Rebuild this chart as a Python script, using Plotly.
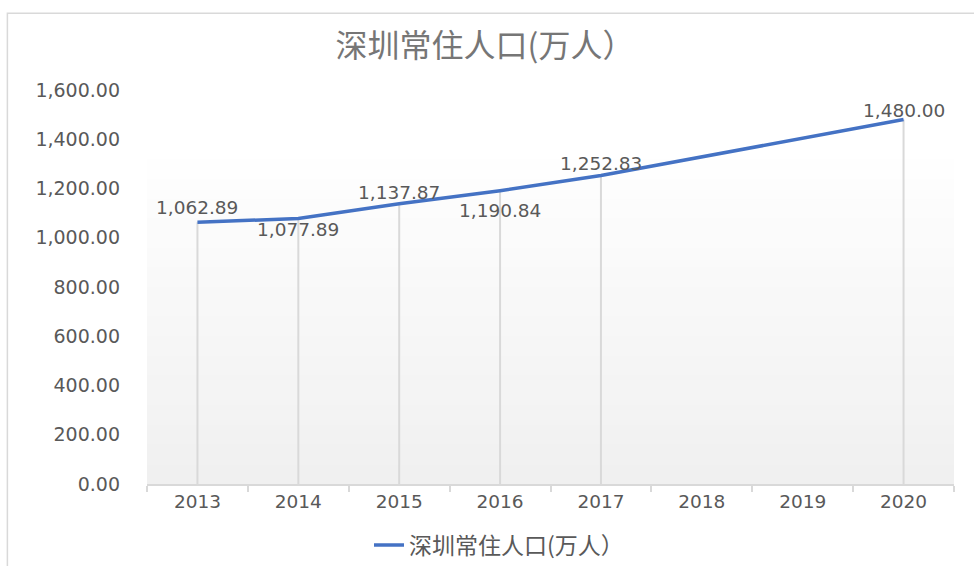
import plotly.graph_objects as go

years = ["2013", "2014", "2015", "2016", "2017", "2018", "2019", "2020"]
population = [1062.89, 1077.89, 1137.87, 1190.84, 1252.83, None, None, 1480.00]
series_name = "深圳常住人口(万人）"
title_text = "深圳常住人口(万人）"

# vertical pixel offset of each data label relative to its point (style only)
label_offsets = [15, -11, 11, -20, 12, 0, 0, 9]

TXT = "#595959"
CJK = "Noto Sans CJK SC, Noto Sans, sans-serif"
NUM = "DejaVu Sans, Verdana, sans-serif"

fig = go.Figure()

# drop lines from each point to the axis
fig.add_trace(go.Scatter(
    x=years, y=population, mode="markers",
    marker=dict(size=0.1, color="rgba(0,0,0,0)"),
    error_y=dict(type="data", symmetric=False,
                 array=[0 if v is not None else None for v in population],
                 arrayminus=population, color="#d9d9d9", thickness=2, width=0),
    showlegend=False, hoverinfo="skip"))

fig.add_trace(go.Scatter(
    x=years, y=population, name=series_name, mode="lines",
    connectgaps=True,
    line=dict(color="#4472C4", width=3.5)))

annotations = []
for idx, (v, off) in enumerate(zip(population, label_offsets)):
    if v is None:
        continue
    annotations.append(dict(x=idx, y=v, xref="x", yref="y", text=f"{v:,.2f}",
                            showarrow=False, yshift=off, xanchor="center",
                            yanchor="middle",
                            font=dict(size=18.5, color=TXT, family=NUM)))

# gradient background for plot area
shapes = []
n = 40
for i in range(n):
    t = i / n
    g = int(round(240 + 15 * min(1.0, t / 0.85)))
    shapes.append(dict(type="rect", xref="paper", yref="paper",
                       x0=0, x1=1, y0=t, y1=(i + 1) / n + 0.002,
                       fillcolor=f"rgb({g},{g},{g})", line=dict(width=0), layer="below"))
# chart outer border
shapes.append(dict(type="rect", xref="paper", yref="paper",
                   x0=-0.173, x1=1.2, y0=-0.6, y1=1.195,
                   line=dict(color="#d9d9d9", width=1.5), fillcolor="rgba(0,0,0,0)",
                   layer="above"))

fig.update_layout(
    width=974, height=566,
    margin=dict(l=146.5, r=19.5, t=90, b=82),
    paper_bgcolor="white", plot_bgcolor="white",
    title=dict(text=title_text, x=485 / 974, xanchor="center",
               y=1 - 46 / 566, yanchor="middle",
               font=dict(size=32, color="#767676", family=CJK)),
    font=dict(family=CJK, color=TXT),
    showlegend=True,
    legend=dict(orientation="h", xref="container", yref="container",
                x=499 / 974, xanchor="center", y=1 - 545 / 566, yanchor="middle",
                font=dict(size=23, color=TXT, family=CJK)),
    shapes=shapes,
    annotations=annotations,
)

fig.update_xaxes(
    type="category", showgrid=False, showline=True, linecolor="#d9d9d9", linewidth=1.5,
    ticks="outside", tickson="boundaries", ticklen=6, tickcolor="#d9d9d9", tickwidth=1.5,
    tickfont=dict(size=18.5, color=TXT, family=NUM), range=[-0.5, 7.5])
fig.update_yaxes(
    range=[0, 1600], dtick=200, tickformat=",.2f", showgrid=False, zeroline=False,
    showline=False, ticks="", ticklabelstandoff=26,
    tickfont=dict(size=19, color=TXT, family=NUM))

fig.write_html("out.html", config={"displayModeBar": False},
               post_script="document.body.style.margin='0';")
